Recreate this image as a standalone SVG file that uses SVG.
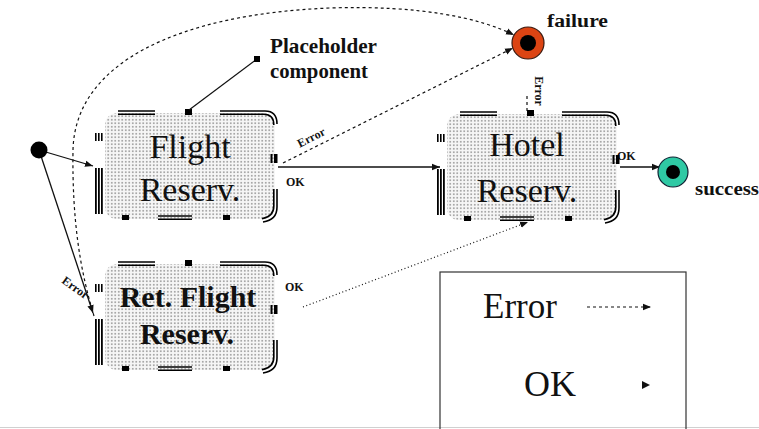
<svg xmlns="http://www.w3.org/2000/svg" xmlns:xlink="http://www.w3.org/1999/xlink" width="759" height="429" viewBox="0 0 759 429">
<style>
.lbl{font-family:"Liberation Serif",serif;fill:#111}
.big{font-size:34px}
.bold{font-weight:bold}
.sm{font-size:12px;font-weight:bold}
.solid{stroke:#111;stroke-width:1.3;fill:none}
.dash{stroke:#111;stroke-width:1.2;fill:none;stroke-dasharray:3 3}
.dot{stroke:#111;stroke-width:1.2;fill:none;stroke-dasharray:1 2.5}
.brd{stroke:#000;stroke-width:1.6;fill:none}
</style>
<defs>
<pattern id="dots" width="3.5" height="3.5" patternUnits="userSpaceOnUse">
<rect width="3.5" height="3.5" fill="#f6f6f6"/>
<circle cx="1.75" cy="1.75" r="0.7" fill="#444"/>
</pattern>
<marker id="ah" viewBox="0 0 10 10" refX="10" refY="5" markerWidth="8" markerHeight="8" markerUnits="userSpaceOnUse" orient="auto">
<path d="M0 1 L10 5 L0 9 Z" fill="#111"/>
</marker>
<g id="border">
<rect x="2" y="2" width="170" height="106" rx="12" fill="url(#dots)"/>
<path class="brd" d="M15 0 H52 M15 3.2 H52"/>
<rect x="82" y="-2" width="7" height="6" fill="#000"/>
<path class="brd" d="M117 0 H162 Q174 0 174 13 M117 3.2 H161 Q170.8 3.2 170.8 14"/>
<rect x="167.5" y="43" width="2" height="9" fill="#000"/>
<rect x="171" y="43" width="3.5" height="9" fill="#000"/>
<path class="brd" d="M174 78 V96 Q174 109 160 111 M170.8 78 V95 Q170.8 105.5 159 107.8"/>
<rect x="-8" y="22" width="1.6" height="8" fill="#000"/>
<rect x="-5" y="22" width="1.6" height="8" fill="#000"/>
<rect x="-2" y="22" width="1.6" height="8" fill="#000"/>
<rect x="-8" y="57" width="1.8" height="46" fill="#000"/>
<rect x="-5" y="57" width="1.8" height="46" fill="#000"/>
<rect x="-2" y="57" width="1.8" height="46" fill="#000"/>
<rect x="19" y="104" width="7" height="5" fill="#000"/>
<path class="brd" d="M55 105 H89 M55 108.2 H89"/>
<rect x="120" y="104" width="7" height="5" fill="#000"/>
</g>
</defs>
<rect width="759" height="429" fill="#fff"/>
<line x1="0" y1="427.5" x2="759" y2="427.5" stroke="#d0d0d0" stroke-width="1"/>

<g id="connectors">
<line class="solid" x1="39" y1="150" x2="93" y2="166" marker-end="url(#ah)"/>
<line class="solid" x1="39" y1="150" x2="93" y2="313" marker-end="url(#ah)"/>
<path class="dash" d="M94 316 C80 270 72 220 73 150 C75 62 180 14 330 8 C420 5 480 18 514 35" marker-end="url(#ah)"/>
<line class="dash" x1="283" y1="163" x2="513" y2="48" marker-end="url(#ah)"/>
<line class="solid" x1="278" y1="167" x2="440" y2="167" marker-end="url(#ah)"/>
<line class="solid" x1="620" y1="167" x2="660" y2="167" marker-end="url(#ah)"/>
<line class="dash" x1="527" y1="111" x2="527" y2="95"/>
<line class="dot" x1="303" y1="307" x2="528" y2="222" marker-end="url(#ah)"/>
<text class="lbl sm" transform="translate(313,141) rotate(-27)" text-anchor="middle">Error</text>
<text class="lbl sm" transform="translate(535,91) rotate(90)" text-anchor="middle" font-size="13">Error</text>
<text class="lbl sm" transform="translate(73,291) rotate(36)" text-anchor="middle">Error</text>
<text class="lbl sm" x="286" y="186" font-size="13">OK</text>
<text class="lbl sm" x="285" y="291" font-size="13">OK</text>
<text class="lbl sm" x="617" y="160">OK</text>
</g>

<g id="start">
<circle cx="39" cy="150" r="8.5" fill="#000"/>
</g>

<g id="flight">
<use xlink:href="#border" href="#border" x="103" y="111"/>
<text class="lbl big" x="190" y="158" text-anchor="middle">Flight</text>
<text class="lbl big" x="190" y="201" text-anchor="middle">Reserv.</text>
</g>

<g id="hotel">
<use xlink:href="#border" href="#border" x="445" y="112"/>
<text class="lbl big" x="527" y="156" text-anchor="middle">Hotel</text>
<text class="lbl big" x="527" y="202" text-anchor="middle">Reserv.</text>
</g>

<g id="retflight">
<use xlink:href="#border" href="#border" x="103" y="262"/>
<text class="lbl bold" x="188" y="307" font-size="30" text-anchor="middle">Ret. Flight</text>
<text class="lbl bold" x="187" y="344" font-size="30" text-anchor="middle">Reserv.</text>
</g>

<g id="placeholder">
<line x1="257" y1="59" x2="189" y2="110" stroke="#111" stroke-width="1.2"/>
<rect x="254" y="56" width="6" height="6" fill="#000"/>
<text class="lbl bold" x="270" y="53" font-size="20" textLength="107" lengthAdjust="spacingAndGlyphs">Placeholder</text>
<text class="lbl bold" x="270" y="78" font-size="20" textLength="98" lengthAdjust="spacingAndGlyphs">component</text>
</g>

<g id="failure">
<circle cx="528" cy="43" r="16" fill="#dc4413" stroke="#3a1a10" stroke-width="1.2"/>
<circle cx="528" cy="43" r="8" fill="#000"/>
<text class="lbl bold" x="547" y="27" font-size="18" textLength="61" lengthAdjust="spacingAndGlyphs">failure</text>
</g>

<g id="success">
<circle cx="673" cy="172" r="15" fill="#2fc9a4" stroke="#123" stroke-width="1.2"/>
<circle cx="673" cy="172" r="7" fill="#000"/>
<text class="lbl bold" x="695" y="195" font-size="18" textLength="64" lengthAdjust="spacingAndGlyphs">success</text>
</g>

<g id="legend">
<rect x="440" y="272" width="246" height="165" fill="none" stroke="#333" stroke-width="1.2"/>
<text class="lbl" x="483" y="318" font-size="35">Error</text>
<line class="dash" x1="587" y1="307" x2="651" y2="307" marker-end="url(#ah)"/>
<text class="lbl" x="524" y="396" font-size="36">OK</text>
<path d="M642 381 L650 385 L642 389 Z" fill="#111"/>
</g>
</svg>
